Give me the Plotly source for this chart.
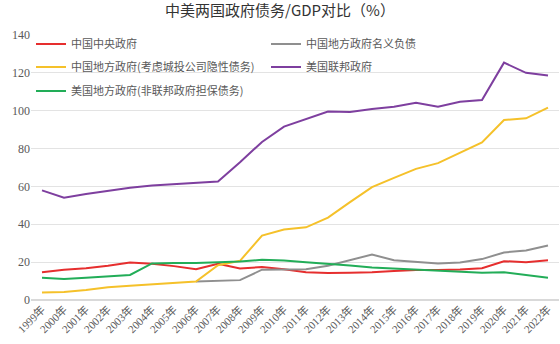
import plotly.graph_objects as go

years = [f"{y}年" for y in range(1999, 2023)]

cn_central = [14.6, 16.0, 16.8, 18.1, 19.8, 19.1, 17.9, 16.3, 19.1, 16.7, 17.4, 16.3,
              14.6, 14.2, 14.4, 14.6, 15.3, 15.8, 15.8, 16.1, 16.8, 20.5, 20.0, 21.0]
cn_local_nominal = [None, None, None, None, None, None, None, 9.8, 10.2, 10.5, 16.0, 16.0,
                    16.3, 18.1, 21.0, 24.0, 21.0, 20.2, 19.3, 19.8, 21.6, 25.1, 26.2, 28.8]
cn_local_implicit = [3.9, 4.2, 5.3, 6.7, 7.5, 8.2, 8.9, 9.8, 18.4, 20.7, 34.0, 37.2,
                     38.4, 43.5, 51.7, 59.6, 64.5, 69.3, 72.3, 77.7, 83.2, 95.1, 96.0, 101.6]
us_federal = [57.9, 54.0, 56.0, 57.8, 59.3, 60.5, 61.3, 62.0, 62.6, 72.8, 83.5, 91.6,
              95.6, 99.6, 99.3, 100.9, 102.1, 104.2, 102.1, 104.7, 105.6, 125.4, 120.0, 118.6]
us_local = [11.8, 11.1, 11.8, 12.6, 13.2, 19.3, 19.6, 19.5, 19.8, 20.4, 21.2, 20.9,
            20.0, 19.3, 18.2, 17.2, 16.7, 16.1, 15.6, 15.1, 14.4, 14.6, 13.2, 11.8]

# (name, values, colour, legend row)
series = [
    ("中国中央政府", cn_central, "#e62e2e", "legend"),
    ("中国地方政府名义负债", cn_local_nominal, "#8f8f8f", "legend"),
    ("中国地方政府(考虑城投公司隐性债务)", cn_local_implicit, "#f5c12a", "legend2"),
    ("美国联邦政府", us_federal, "#7e3f9f", "legend2"),
    ("美国地方政府(非联邦政府担保债务)", us_local, "#22ad58", "legend3"),
]

fig = go.Figure()
for name, vals, color, lg in series:
    fig.add_trace(go.Scatter(x=years, y=vals, name=name, mode="lines", legend=lg,
                             line=dict(color=color, width=2)))

font_fam = "Liberation Serif, Noto Sans CJK SC, serif"
legend_common = dict(orientation="h", x=0.0, xanchor="left", yanchor="middle",
                     entrywidth=190, entrywidthmode="pixels",
                     bgcolor="rgba(0,0,0,0)",
                     font=dict(family="Noto Sans CJK SC", size=11, color="#595959"))
fig.update_layout(
    width=560, height=344,
    margin=dict(l=31, r=1, t=35, b=44),
    paper_bgcolor="white", plot_bgcolor="white",
    title=dict(text="中美两国政府债务/GDP对比（%）", x=0.5, xanchor="center",
               y=0.985, yanchor="top",
               font=dict(family="Noto Sans CJK SC", size=15, color="#333333")),
    legend=dict(y=0.966, **legend_common),
    legend2=dict(y=0.879, **legend_common),
    legend3=dict(y=0.789, **legend_common),
    showlegend=True,
)
fig.update_xaxes(type="category", range=[-0.5, 23.5], tickangle=-45,
                 showgrid=False, showline=False, ticks="",
                 tickfont=dict(family=font_fam, size=11, color="#595959"))
fig.update_yaxes(range=[0, 140], dtick=20, showgrid=True, gridcolor="#e3e3e3",
                 gridwidth=1, zeroline=True, zerolinecolor="#d9d9d9", showline=False,
                 ticks="", tickfont=dict(family=font_fam, size=12, color="#595959"))

fig.write_html("out.html")
